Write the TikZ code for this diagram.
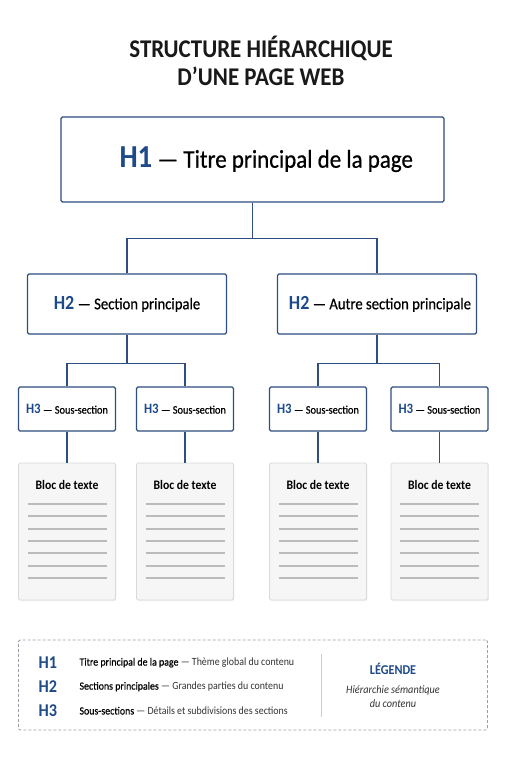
\documentclass[tikz,border=0pt]{standalone}
\usepackage{fontspec}
\setmainfont{Carlito}[FakeStretch=0.9]
\newfontfamily\medfont{Carlito}[FakeStretch=0.9,FakeBold=0.6]
\usetikzlibrary{positioning,shadows}
\definecolor{hblue}{HTML}{1D4A8A}
\definecolor{hborder}{HTML}{2E4D80}
\definecolor{blocfill}{HTML}{F6F6F6}
\definecolor{blocdraw}{HTML}{D9D9D9}
\definecolor{txtgray}{HTML}{BBBBBB}
\definecolor{legdash}{HTML}{9AA0A8}
\tikzset{
  hbox/.style={draw=hborder,line width=1.3pt,fill=white,rounded corners=1.5pt,inner sep=0pt},
  h1box/.style={hbox,minimum width=383pt,minimum height=85pt},
  h2box/.style={hbox,minimum width=199pt,minimum height=60pt},
  h3box/.style={hbox,minimum width=97pt,minimum height=44pt},
  blocbox/.style={draw=blocdraw,line width=0.8pt,fill=blocfill,rounded corners=1.5pt,
    minimum width=97pt,minimum height=137pt,inner sep=0pt,
    drop shadow={opacity=0.10,shadow xshift=0.8pt,shadow yshift=-1.2pt}},
  conn/.style={draw=hborder,line width=1.2pt},
  txtline/.style={draw=txtgray,line width=2pt},
  hlabel/.style={text=hblue,font=\bfseries},
}
\newcommand{\hh}[1]{\textcolor{hblue}{\bfseries #1}}
\begin{document}
\begin{tikzpicture}[x=1pt,y=-1pt]
\useasboundingbox[fill=white] (0,0) rectangle (511,768);
% titre
\node[align=center,font=\fontsize{25.5}{28.7}\selectfont\bfseries,text=black!90] (titre) at (261,61)
  {STRUCTURE HIÉRARCHIQUE\\D’UNE PAGE WEB};
% niveau 1
\node[h1box] (h1) at (252.5,159.5) {};
\node[anchor=west] at (116,159.5) {\fontsize{32}{32}\selectfont\hh{H1}\fontsize{25.5}{25.5}\medfont\ — Titre principal de la page};
% niveau 2
\node[h2box] (h2a) at (127,304) {};
\node[h2box] (h2b) at (377,304) {};
\node at (h2a) {\fontsize{20}{20}\selectfont\hh{H2}\fontsize{16.3}{16.3}\medfont\ — Section principale};
\node at ([xshift=3pt]h2b.center) {\fontsize{20}{20}\selectfont\hh{H2}\fontsize{16.3}{16.3}\medfont\ — Autre section principale};
% niveau 3
\foreach \nom/\x in {h3a/67,h3b/185,h3c/318,h3d/439.5}{
  \node[h3box] (\nom) at (\x,409) {};
  \node at (\nom) {\fontsize{14.3}{14.3}\selectfont\hh{H3}\fontsize{11.5}{11.5}\medfont\ — Sous-section};
}
% blocs de texte
\foreach \nom/\x in {ba/67,bb/185,bc/318,bd/439.5}{
  \node[blocbox] (\nom) at (\x,531.5) {};
  \node[font=\fontsize{13}{13}\selectfont\bfseries] at ([yshift=-22pt]\nom.north) {Bloc de texte};
  \foreach \k in {0,...,6}{
    \pgfmathsetmacro{\dy}{41.3+12.33*\k}
    \draw[txtline] ([xshift=9.4pt,yshift=-\dy pt]\nom.north west) -- ([xshift=-9.4pt,yshift=-\dy pt]\nom.north east);
  }
}
% liaisons
\draw[conn] (h1.south) -- ++(0,36) -| (h2a.north);
\draw[conn] (h1.south) -- ++(0,36) -| (h2b.north);
\draw[conn] (h2a.south) -- ++(0,28.7) -| (h3a.north);
\draw[conn] (h2a.south) -- ++(0,28.7) -| (h3b.north);
\draw[conn] (h2b.south) -- ++(0,28.7) -| (h3c.north);
\draw[conn] (h2b.south) -- ++(0,28.7) -| (h3d.north);
\draw[conn] (h3a.south) -- (ba.north);
\draw[conn] (h3b.south) -- (bb.north);
\draw[conn] (h3c.south) -- (bc.north);
\draw[conn] (h3d.south) -- (bd.north);
% legende
\node[draw=legdash,dash pattern=on 3pt off 2pt,line width=0.9pt,rounded corners=2pt,
  minimum width=469pt,minimum height=90pt,inner sep=0pt] (legende) at (253,685) {};
\foreach \y/\lab/\deb/\fin in {662.7/H1/Titre principal de la page/Thème global du contenu,
    686.7/H2/Sections principales/Grandes parties du contenu,
    710.7/H3/Sous-sections/Détails et subdivisions des sections}{
  \node[anchor=west,hlabel,font=\fontsize{18}{18}\selectfont\bfseries] (l\lab) at (35,\y) {\lab};
  \node[anchor=west,font=\fontsize{11}{11}\selectfont] at (76,\y) {{\medfont\deb{}} \textcolor{black!80}{— \fin}};
}
\draw[draw=black!20,line width=1pt] (321.7,654) coordinate (sep1) -- (321.7,717) coordinate (sep2);
\node[hlabel,font=\fontsize{13.5}{13.5}\selectfont\bfseries] (legtitre) at (393,669) {LÉGENDE};
\node[align=center,font=\fontsize{11.4}{13.3}\itshape,text=black!80] (legtexte) at (393,696.7)
  {Hiérarchie sémantique\\du contenu};
\end{tikzpicture}
\end{document}
